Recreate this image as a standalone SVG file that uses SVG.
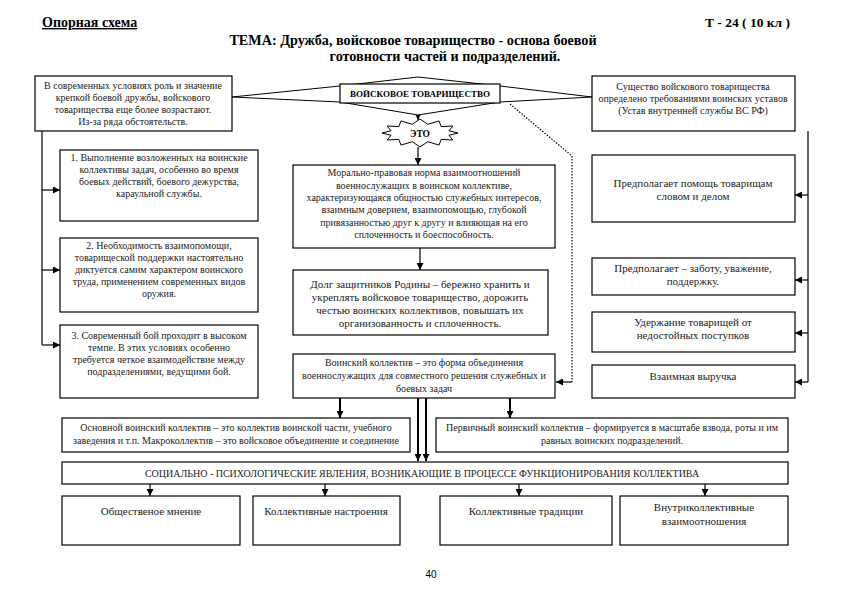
<svg xmlns="http://www.w3.org/2000/svg" width="841" height="595" viewBox="0 0 841 595">
<defs>
<marker id="ah" viewBox="0 0 10 10" refX="10" refY="5" markerWidth="7" markerHeight="7" markerUnits="userSpaceOnUse" orient="auto">
<path d="M0,0 L10,5 L0,10 z" fill="#000"/>
</marker>
</defs>
<style>
.box{fill:#fff;stroke:#000;stroke-width:1.2}
.t{font-family:"Liberation Serif","Times New Roman",serif;font-size:10px;fill:#222;text-anchor:middle}
.t11{font-family:"Liberation Serif","Times New Roman",serif;font-size:11px;fill:#222;text-anchor:middle}
.h{font-family:"Liberation Serif","Times New Roman",serif;font-weight:bold;fill:#000}
.c{fill:none;stroke:#000;stroke-width:1.2}
.ca{fill:none;stroke:#000;stroke-width:1.2;marker-end:url(#ah)}
.thick{fill:none;stroke:#000;stroke-width:2;marker-end:url(#ah)}
.dot{fill:none;stroke:#000;stroke-width:1.2;stroke-dasharray:1.5 1.5}
</style>
<rect width="841" height="595" fill="#fff"/>

<g id="header">
<text class="h" x="42" y="27" font-size="14" text-decoration="underline">Опорная схема</text>
<text class="h" x="790" y="27" font-size="13.5" text-anchor="end">Т - 24 ( 10 кл )</text>
<text class="h" x="413" y="45" font-size="14.2" text-anchor="middle">ТЕМА: Дружба, войсковое товарищество - основа боевой</text>
<text class="h" x="445" y="61" font-size="14.2" text-anchor="middle">готовности частей и подразделений.</text>
</g>

<g id="connectors">
<line class="ca" x1="418" y1="115" x2="418" y2="120"/>
<line class="ca" x1="418" y1="147" x2="418" y2="165"/>
<line class="ca" x1="420" y1="248" x2="420" y2="270"/>
<path class="dot" d="M510,104 L572,156 L572,382"/>
<line class="ca" x1="572" y1="382" x2="556" y2="382"/>
<path class="c" d="M42,131 L42,345"/>
<line class="ca" x1="42" y1="190" x2="60" y2="190"/>
<line class="ca" x1="42" y1="270" x2="60" y2="270"/>
<line class="ca" x1="42" y1="345" x2="60" y2="345"/>
<path class="c" d="M808,131 L808,382"/>
<line class="ca" x1="808" y1="195" x2="795" y2="195"/>
<line class="ca" x1="808" y1="280" x2="795" y2="280"/>
<line class="ca" x1="808" y1="333" x2="795" y2="333"/>
<line class="ca" x1="808" y1="382" x2="795" y2="382"/>
<line class="thick" x1="340" y1="398" x2="340" y2="418"/>
<line class="thick" x1="510" y1="398" x2="510" y2="418"/>
<line class="thick" x1="418" y1="398" x2="418" y2="461"/>
<line class="thick" x1="426" y1="398" x2="426" y2="461"/>
<line class="ca" x1="150" y1="484" x2="150" y2="496"/>
<line class="ca" x1="325" y1="484" x2="325" y2="496"/>
<line class="ca" x1="519" y1="484" x2="519" y2="496"/>
<line class="ca" x1="705" y1="484" x2="705" y2="496"/>
</g>

<g id="star-center">
<polygon points="232,97 340,86 418,77 500,86 592,97 500,102 418,115 340,102" fill="#fff" stroke="#000" stroke-width="1"/>
</g>

<g id="n-top-left">
<rect class="box" x="35" y="76" width="197" height="55"/>
<text class="t" x="133" y="89">В современных условиях роль и значение</text>
<text class="t" x="133" y="101">крепкой боевой дружбы, войскового</text>
<text class="t" x="133" y="113">товарищества еще более возрастают.</text>
<text class="t" x="133" y="125">Из-за ряда обстоятельств.</text>
</g>

<g id="n-main">
<rect class="box" x="340" y="84" width="160" height="19"/>
<text x="420" y="97" font-family="'Liberation Serif','Times New Roman',serif" font-size="9" font-weight="bold" text-anchor="middle">ВОЙСКОВОЕ ТОВАРИЩЕСТВО</text>
</g>

<g id="n-eto">
<polygon points="458,133 449,130.7 452.9,126 441.2,126.6 439,120.9 427.8,124.3 420,119 412.2,124.3 401,120.9 398.8,126.6 387.1,126 391,130.7 382,133 391,135.3 387.1,140 398.8,139.4 401,145.1 412.2,141.7 420,147 427.8,141.7 439,145.1 441.2,139.4 452.9,140 449,135.3" fill="#fff" stroke="#000" stroke-width="1"/>
<text x="420" y="137" font-family="'Liberation Serif','Times New Roman',serif" font-size="9.5" font-weight="bold" text-anchor="middle">ЭТО</text>
</g>

<g id="n-top-right">
<rect class="box" x="592" y="76" width="203" height="55"/>
<text class="t" x="693" y="90">Существо войскового товарищества</text>
<text class="t" x="693" y="102">определено требованиями воинских уставов</text>
<text class="t" x="693" y="114">(Устав внутренней службы ВС РФ)</text>
</g>

<g id="n-left1">
<rect class="box" x="60" y="150" width="198" height="71"/>
<text class="t" x="159" y="161">1. Выполнение возложенных на воинские</text>
<text class="t" x="159" y="173">коллективы задач, особенно во время</text>
<text class="t" x="159" y="185">боевых действий, боевого дежурства,</text>
<text class="t" x="159" y="197">караульной службы.</text>
</g>

<g id="n-left2">
<rect class="box" x="60" y="238" width="198" height="74"/>
<text class="t" x="159" y="249">2. Необходимость взаимопомощи,</text>
<text class="t" x="159" y="261">товарищеской поддержки настоятельно</text>
<text class="t" x="159" y="273">диктуется самим характером воинского</text>
<text class="t" x="159" y="285">труда, применением современных видов</text>
<text class="t" x="159" y="297">оружия.</text>
</g>

<g id="n-left3">
<rect class="box" x="60" y="325" width="198" height="73"/>
<text class="t" x="159" y="339">3. Современный бой проходит в высоком</text>
<text class="t" x="159" y="351">темпе. В этих условиях особенно</text>
<text class="t" x="159" y="363">требуется четкое взаимодействие между</text>
<text class="t" x="159" y="375">подразделениями, ведущими бой.</text>
</g>

<g id="n-center1">
<rect class="box" x="293" y="165" width="262" height="83"/>
<text class="t" x="424" y="176">Морально-правовая норма взаимоотношений</text>
<text class="t" x="424" y="189">военнослужащих в воинском коллективе,</text>
<text class="t" x="424" y="201">характеризующаяся общностью служебных интересов,</text>
<text class="t" x="424" y="213">взаимным доверием, взаимопомощью, глубокой</text>
<text class="t" x="424" y="226">привязанностью друг к другу и влияющая на его</text>
<text class="t" x="424" y="238">сплоченность и боеспособность.</text>
</g>

<g id="n-center2">
<rect class="box" x="293" y="270" width="255" height="65"/>
<text class="t11" x="420" y="288">Долг защитников Родины – бережно хранить и</text>
<text class="t11" x="420" y="301">укреплять войсковое товарищество, дорожить</text>
<text class="t11" x="420" y="314">честью воинских коллективов, повышать их</text>
<text class="t11" x="420" y="327">организованность и сплоченность.</text>
</g>

<g id="n-center3">
<rect class="box" x="293" y="354" width="262" height="44"/>
<text class="t" x="424" y="366">Воинский коллектив – это форма объединения</text>
<text class="t" x="424" y="379">военнослужащих для совместного решения служебных и</text>
<text class="t" x="424" y="392">боевых задач</text>
</g>

<g id="n-right1">
<rect class="box" x="592" y="155" width="203" height="67"/>
<text class="t11" x="693" y="187">Предполагает помощь товарищам</text>
<text class="t11" x="693" y="200">словом и делом</text>
</g>

<g id="n-right2">
<rect class="box" x="592" y="258" width="203" height="37"/>
<text class="t11" x="693" y="272">Предполагает – заботу, уважение,</text>
<text class="t11" x="693" y="285">поддержку.</text>
</g>

<g id="n-right3">
<rect class="box" x="592" y="312" width="203" height="40"/>
<text class="t11" x="693" y="326">Удержание товарищей от</text>
<text class="t11" x="693" y="339">недостойных поступков</text>
</g>

<g id="n-right4">
<rect class="box" x="592" y="365" width="203" height="33"/>
<text class="t11" x="693" y="380">Взаимная выручка</text>
</g>

<g id="n-bottom-left">
<rect class="box" x="62" y="418" width="348" height="34"/>
<text class="t" x="236" y="431">Основной воинский коллектив – это коллектив воинской части, учебного</text>
<text class="t" x="236" y="444">заведения и т.п. Макроколлектив – это войсковое объединение и соединение</text>
</g>

<g id="n-bottom-right">
<rect class="box" x="436" y="418" width="352" height="34"/>
<text class="t" x="612" y="431">Первичный воинский коллектив – формируется в масштабе взвода, роты и им</text>
<text class="t" x="612" y="444">равных воинских подразделений.</text>
</g>

<g id="n-social">
<rect class="box" x="62" y="462" width="726" height="22"/>
<text class="t" x="422" y="477" font-size="10.5">СОЦИАЛЬНО - ПСИХОЛОГИЧЕСКИЕ ЯВЛЕНИЯ, ВОЗНИКАЮЩИЕ В ПРОЦЕССЕ ФУНКЦИОНИРОВАНИЯ КОЛЛЕКТИВА</text>
</g>

<g id="n-s1">
<rect class="box" x="62" y="496" width="178" height="49"/>
<text class="t11" x="151" y="515">Общественое мнение</text>
</g>
<g id="n-s2">
<rect class="box" x="253" y="496" width="147" height="49"/>
<text class="t11" x="326" y="515">Коллективные настроения</text>
</g>
<g id="n-s3">
<rect class="box" x="440" y="496" width="172" height="49"/>
<text class="t11" x="526" y="515">Коллективные традиции</text>
</g>
<g id="n-s4">
<rect class="box" x="620" y="496" width="168" height="49"/>
<text class="t11" x="704" y="511">Внутриколлективные</text>
<text class="t11" x="704" y="525">взаимоотношения</text>
</g>

<text x="431" y="578" font-family="'Liberation Sans',sans-serif" font-size="10" fill="#000" text-anchor="middle">40</text>
</svg>
